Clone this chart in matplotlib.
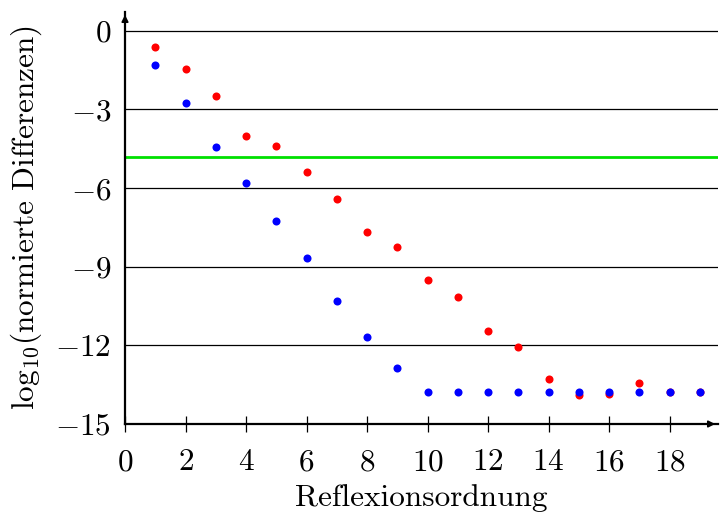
import numpy as np
import matplotlib
matplotlib.use("Agg")
import matplotlib.pyplot as plt

plt.rcParams['font.family'] = 'serif'
plt.rcParams['font.serif'] = ['cmr10']
plt.rcParams['mathtext.fontset'] = 'cm'
plt.rcParams['axes.formatter.use_mathtext'] = True

# Reflexion orders and log10 of the normalised differences
orders = np.arange(1, 20)
diff_red = [-0.61, -1.45, -2.49, -4.03, -4.40, -5.37, -6.40, -7.66, -8.26, -9.50,
            -10.14, -11.45, -12.05, -13.27, -13.90, -13.85, -13.45, -13.78, -13.78]
diff_blue = [-1.32, -2.77, -4.43, -5.81, -7.24, -8.65, -10.31, -11.67, -12.86, -13.79,
             -13.79, -13.79, -13.79, -13.79, -13.79, -13.79, -13.79, -13.79, -13.79]
threshold = -4.81

x_ticks = list(range(0, 20, 2))
y_ticks = [0, -3, -6, -9, -12, -15]

FS = 22.5

fig = plt.figure(figsize=(7.2, 5.12), dpi=100)
ax = fig.add_axes([125/720, 1 - 424/512, (718 - 125)/720, (424 - 12)/512])

ax.set_xlim(0, 19.6)
ax.set_ylim(-15, 0.72)

# horizontal grid lines
for yv in y_ticks[:-1]:
    ax.axhline(yv, color='black', lw=0.9, zorder=1)
ax.axhline(threshold, color='#00e000', lw=2.0, zorder=2)

ax.plot(orders, diff_red, 'o', color='#ff0000', ms=5.8, mec='none', zorder=3)
ax.plot(orders, diff_blue, 'o', color='#0000ff', ms=5.8, mec='none', zorder=4)

for s in ['top', 'right']:
    ax.spines[s].set_visible(False)
for s in ['left', 'bottom']:
    ax.spines[s].set_linewidth(1.6)
    ax.spines[s].set_zorder(5)

ax.set_xticks(x_ticks)
ax.set_yticks(y_ticks)
ax.set_yticklabels([r'$%d$' % v if v == 0 else r'$-%d$' % abs(v) for v in y_ticks])
ax.set_xticklabels([r'$%d$' % v for v in x_ticks])
ax.tick_params(axis='x', direction='inout', length=11, width=0.9, labelsize=FS, pad=12)
ax.tick_params(axis='y', length=0, labelsize=FS, pad=10)

# axis arrows
ax.annotate('', xy=(0, 1.0), xytext=(0, 0.97), xycoords='axes fraction',
            arrowprops=dict(arrowstyle='-|>', color='black', lw=1.2,
                            mutation_scale=10), annotation_clip=False)
ax.annotate('', xy=(1.0, 0), xytext=(0.97, 0), xycoords='axes fraction',
            arrowprops=dict(arrowstyle='-|>', color='black', lw=1.2,
                            mutation_scale=10), annotation_clip=False)

ax.set_xlabel('Reflexionsordnung', fontsize=FS, labelpad=5.5)
ax.set_ylabel(r'$\mathrm{log}_{10}$(normierte Differenzen)', fontsize=FS, labelpad=8)

fig.savefig('out.png', dpi=100)
